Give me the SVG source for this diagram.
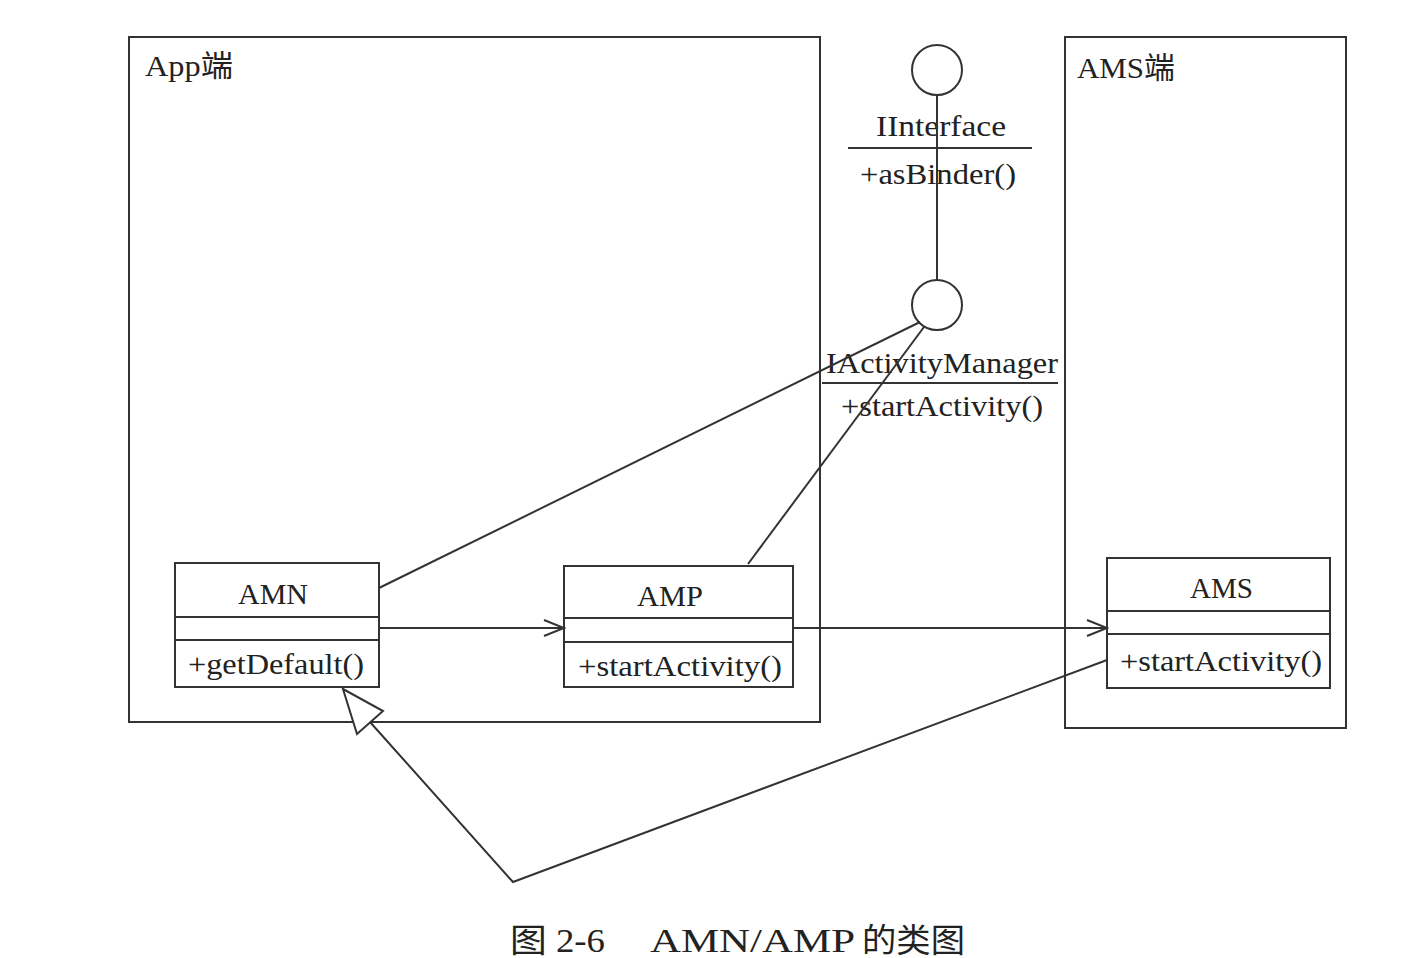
<svg xmlns="http://www.w3.org/2000/svg" width="1428" height="958" viewBox="0 0 1428 958">
<style>
.b{fill:none;stroke:#333;stroke-width:2}
.t{font-family:"Liberation Serif","Noto Sans CJK SC",serif;fill:#222;font-size:30px}
.cap{font-size:33px}
.c{stroke:#333;stroke-width:2;fill:none}
</style>
<defs>
<marker id="open" markerWidth="24" markerHeight="20" refX="22" refY="10" orient="auto" markerUnits="userSpaceOnUse">
<path d="M2,2 L22,10 L2,18" fill="none" stroke="#333" stroke-width="2"/>
</marker>
</defs>
<rect width="1428" height="958" fill="#fff"/>
<g id="app-side">
<rect class="b" x="129" y="37" width="691" height="685"/>
<text class="t" x="145" y="76" textLength="88" lengthAdjust="spacingAndGlyphs">App端</text>
</g>
<g id="ams-side">
<rect class="b" x="1065" y="37" width="281" height="691"/>
<text class="t" x="1077" y="78" textLength="98" lengthAdjust="spacingAndGlyphs">AMS端</text>
</g>
<g id="iinterface">
<circle class="b" cx="937" cy="70" r="25"/>
<text class="t" x="876" y="136" textLength="130" lengthAdjust="spacingAndGlyphs">IInterface</text>
<line class="c" x1="848" y1="148" x2="1032" y2="148"/>
<text class="t" x="860" y="184" textLength="156" lengthAdjust="spacingAndGlyphs">+asBinder()</text>
</g>
<g id="iactivitymanager">
<circle class="b" cx="937" cy="305" r="25"/>
<text class="t" x="826" y="373" textLength="232" lengthAdjust="spacingAndGlyphs">IActivityManager</text>
<line class="c" x1="822" y1="383" x2="1058" y2="383"/>
<text class="t" x="841" y="416" textLength="202" lengthAdjust="spacingAndGlyphs">+startActivity()</text>
</g>
<g id="amn">
<rect class="b" x="175" y="563" width="204" height="124"/>
<line class="c" x1="175" y1="617" x2="379" y2="617"/>
<line class="c" x1="175" y1="640" x2="379" y2="640"/>
<text class="t" x="238" y="604" textLength="70" lengthAdjust="spacingAndGlyphs">AMN</text>
<text class="t" x="188" y="674" textLength="176" lengthAdjust="spacingAndGlyphs">+getDefault()</text>
</g>
<g id="amp">
<rect class="b" x="564" y="566" width="229" height="121"/>
<line class="c" x1="564" y1="618" x2="793" y2="618"/>
<line class="c" x1="564" y1="642" x2="793" y2="642"/>
<text class="t" x="637" y="606" textLength="66" lengthAdjust="spacingAndGlyphs">AMP</text>
<text class="t" x="578" y="676" textLength="204" lengthAdjust="spacingAndGlyphs">+startActivity()</text>
</g>
<g id="ams">
<rect class="b" x="1107" y="558" width="223" height="130"/>
<line class="c" x1="1107" y1="611" x2="1330" y2="611"/>
<line class="c" x1="1107" y1="634" x2="1330" y2="634"/>
<text class="t" x="1190" y="598" textLength="63" lengthAdjust="spacingAndGlyphs">AMS</text>
<text class="t" x="1120" y="671" textLength="202" lengthAdjust="spacingAndGlyphs">+startActivity()</text>
</g>
<g id="connectors">
<line class="c" x1="937" y1="95" x2="937" y2="280"/>
<line class="c" x1="379" y1="588" x2="920" y2="322"/>
<line class="c" x1="748" y1="564" x2="924" y2="327"/>
<line class="c" x1="379" y1="628" x2="564" y2="628" marker-end="url(#open)"/>
<line class="c" x1="793" y1="628" x2="1107" y2="628" marker-end="url(#open)"/>
<polyline class="c" points="1107,660 513,882 370,722"/>
<polygon points="343,689 383,711 357,734" fill="#fff" stroke="#333" stroke-width="2"/>
</g>
<g id="caption">
<text class="t cap" x="510" y="952" textLength="95" lengthAdjust="spacingAndGlyphs">图 2-6</text>
<text class="t cap" x="650" y="952" textLength="205" lengthAdjust="spacingAndGlyphs">AMN/AMP</text>
<text class="t cap" x="862" y="952" textLength="103" lengthAdjust="spacingAndGlyphs">的类图</text>
</g>
</svg>
